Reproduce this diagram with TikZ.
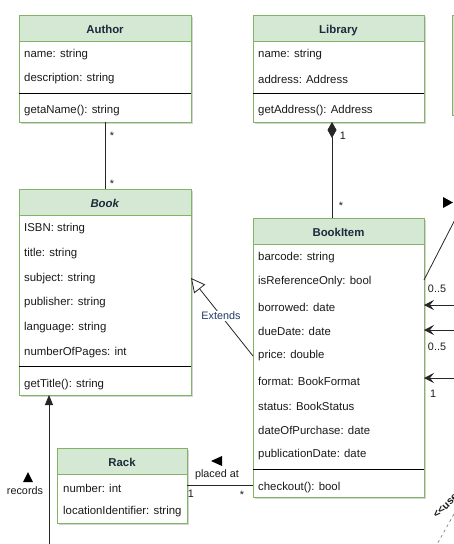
\documentclass[tikz,border=0pt]{standalone}
\usepackage{fontspec}
\setmainfont{Liberation Sans}
\usetikzlibrary{arrows.meta}
\definecolor{hdrfill}{HTML}{D5E8D4}
\definecolor{hdrline}{HTML}{82B366}
\definecolor{titlecol}{HTML}{1B2B3B}
\definecolor{txt}{HTML}{1A1A1A}
\definecolor{extcol}{HTML}{1F3A68}
\definecolor{shadowcol}{HTML}{C4C4C4}
\newcommand{\umlbox}[6]{%
  \fill[shadowbox] (#2+2,#3+2) rectangle ++(#4,#5);
  \node[classbody, minimum width=#4, minimum height=#5] (#1) at (#2,#3) {};
  \node[classhead, minimum width=#4] (#1-h) at (#2,#3) {#6};
}
\begin{document}
\begin{tikzpicture}[x=1pt,y=-1pt,
  classbody/.style={draw=hdrline, fill=white, line width=0.8pt, anchor=north west, inner sep=0pt, outer sep=0pt},
  classhead/.style={draw=hdrline, fill=hdrfill, line width=0.8pt, anchor=north west, inner sep=0pt, outer sep=0pt, minimum height=26pt, text height=11pt, text depth=0pt, font=\fontsize{11.4}{13}\selectfont\bfseries, text=titlecol},
  attr/.style={anchor=west, inner sep=0pt, yshift=-2pt, font=\fontsize{11.4}{13}\selectfont, text=txt},
  sep/.style={line width=0.8pt, draw=black},
  conn/.style={line width=0.8pt, draw=black!85},
  lbl/.style={inner sep=0pt, yshift=-1pt, font=\fontsize{10.8}{12}\selectfont, text=txt},
  shadowbox/.style={fill=shadowcol, opacity=0.7},
  marker/.style={fill=black, draw=none},
]
\useasboundingbox (0,0) rectangle (454,544);
\clip (0,0) rectangle (454,544);
\fill[white] (0,0) rectangle (454,544);

% partially visible box at right edge
\node[classhead, minimum width=40, minimum height=100] (rightbox) at (452.5,15) {};

% Author
\umlbox{author}{19}{15}{172}{107}{Author}
\node[attr] (author-a1) at (24,53) {name: string};
\node[attr] (author-a2) at (24,77) {description: string};
\draw[sep] (author.west |- 0,93) -- (author.east |- 0,93);
\node[attr] (author-m1) at (24,109) {getaName(): string};

% Library
\umlbox{library}{253}{15}{171}{107}{Library}
\node[attr] (library-a1) at (258,53) {name: string};
\node[attr] (library-a2) at (258,77) {address: Address};
\draw[sep] (library.west |- 0,93) -- (library.east |- 0,93);
\node[attr] (library-m1) at (258,109) {getAddress(): Address};

% Book
\umlbox{book}{19}{189}{172}{206}{\textit{Book}}
\node[attr] (book-a1) at (24,227) {ISBN: string};
\node[attr] (book-a2) at (24,252) {title: string};
\node[attr] (book-a3) at (24,277) {subject: string};
\node[attr] (book-a4) at (24,301) {publisher: string};
\node[attr] (book-a5) at (24,326) {language: string};
\node[attr] (book-a6) at (24,351) {numberOfPages: int};
\draw[sep] (book.west |- 0,366) -- (book.east |- 0,366);
\node[attr] (book-m1) at (24,383) {getTitle(): string};

% BookItem
\umlbox{bookitem}{253}{218}{171}{279}{BookItem}
\node[attr] (bi-a1) at (258,256) {barcode: string};
\node[attr] (bi-a2) at (258,280) {isReferenceOnly: bool};
\node[attr] (bi-a3) at (258,305) {borrowed: date};
\node[attr] (bi-a4) at (258,329) {dueDate: date};
\node[attr] (bi-a5) at (258,354) {price: double};
\node[attr] (bi-a6) at (258,379) {format: BookFormat};
\node[attr] (bi-a7) at (258,404) {status: BookStatus};
\node[attr] (bi-a8) at (258,428) {dateOfPurchase: date};
\node[attr] (bi-a9) at (258,453) {publicationDate: date};
\draw[sep] (bookitem.west |- 0,469) -- (bookitem.east |- 0,469);
\node[attr] (bi-m1) at (258,486) {checkout(): bool};

% Rack
\umlbox{rack}{57}{448}{130}{75}{Rack}
\node[attr] (rack-a1) at (63,486) {number: int};
\node[attr] (rack-a2) at (63,510) {locationIdentifier: string};

% Author -- Book
\draw[conn] (author.south) -- (book.north);
\node[lbl] (author-m) at (112,135) {*};
\node[lbl] (book-m) at (112,183) {*};

% Library <>-- BookItem
\coordinate (libx) at (332,0);
\draw[conn, {Diamond[length=16pt,width=9pt]}-] (library.south -| libx) -- (bookitem.north -| libx);
\node[lbl] (lib-m) at (343,135) {1};
\node[lbl] (bi-m) at (341,205) {*};

% Extends
\coordinate (exttip) at (0,278);
\draw[conn, -{Triangle[open,length=14pt,width=14pt,fill=white]}] (bi-a5.west -| bookitem.west) -- (book.east |- exttip);
\node[lbl, fill=white, text=extcol, inner sep=1pt] (extlbl) at (221,315) {Extends};

% records
\coordinate (recbot) at (49,550);
\draw[conn, -{Triangle[length=10pt,width=8pt]}] (recbot) -- (book.south -| recbot);
\fill[marker] (23,482) -- (28,472) -- (33,482) -- cycle;
\node[lbl] (reclbl) at (25,490) {records};

% placed at
\coordinate (placey) at (0,485);
\draw[conn] (rack.east |- placey) -- (bookitem.west |- placey);
\fill[marker] (211,461) -- (222,456) -- (222,466) -- cycle;
\node[lbl] (placelbl) at (217,474) {placed at};
\node[lbl] (rack-m) at (191,493) {1};
\node[lbl] (bi-m2) at (242,494) {*};

% right side associations
\coordinate (assocend) at (462,206);
\draw[conn] (bi-a2.west -| bookitem.east) ++(0,-2) -- (assocend);
\fill[marker] (443,197) -- (453,202.5) -- (443,208) -- cycle;
\coordinate (ra1) at (462,305);
\coordinate (ra2) at (462,330);
\coordinate (ra3) at (462,378);
\draw[conn, -{Stealth[length=10pt,width=10pt,inset=4pt]}] (ra1) -- (ra1 -| bookitem.east);
\draw[conn, -{Stealth[length=10pt,width=10pt,inset=4pt]}] (ra2) -- (ra2 -| bookitem.east);
\draw[conn, -{Stealth[length=10pt,width=10pt,inset=4pt]}] (ra3) -- (ra3 -| bookitem.east);
\node[lbl] (r-m1) at (437,288) {0..5};
\node[lbl] (r-m2) at (437,346) {0..5};
\node[lbl] (r-m3) at (433,393) {1};

% dependency at bottom right
\draw[conn, dashed, draw=black!55, line width=0.6pt] (454,514) -- (436,546);
\node[inner sep=0pt, rotate=45, anchor=base west, font=\fontsize{10.5}{12}\selectfont\bfseries, text=txt] (uselbl) at (437,519) {<{}<us{}e>{}>};
\end{tikzpicture}
\end{document}
